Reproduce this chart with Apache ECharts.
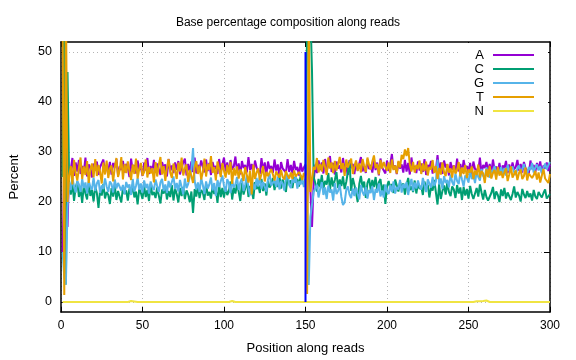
<!DOCTYPE html>
<html>
<head>
<meta charset="utf-8">
<script src="https://cdn.jsdelivr.net/npm/echarts@6/dist/echarts.min.js"></script>
<style>
  html, body { margin: 0; padding: 0; background: #fff; }
  #chart { width: 576px; height: 360px; }
</style>
</head>
<body>
<div id="chart"></div>
<script>
const titleText = 'Base percentage composition along reads';
const seriesNames = ['A', 'C', 'G', 'T', 'N'];
const seriesColors = ['#9400d3', '#009e73', '#56b4e9', '#e69f00', '#f0e442'];
const xTicks = [0, 50, 100, 150, 200, 250, 300];
const yTicks = [0, 10, 20, 30, 40, 50];
const readBoundary = [[150, 0], [150, 50]];

const baseA = [
  10, 28, 32, 15, 27, 26.5, 28.8, 25.2, 27.9, 26.1,
  28.4, 25.6, 27.2, 26.0, 28.9, 25.1, 27.5, 26.8, 24.9, 27.7,
  26.3, 28.1, 25.4, 27.0, 26.6, 28.5, 25.8, 27.3, 26.2, 28.0,
  25.5, 27.8, 26.9, 28.6, 25.3, 27.1, 26.4, 28.2, 25.9, 27.6,
  26.8, 25.0, 28.7, 26.1, 27.4, 25.7, 28.3, 26.5, 27.0, 25.2,
  27.9, 26.3, 28.8, 25.6, 27.2, 26.0, 28.4, 25.9, 27.7, 26.6,
  25.4, 28.0, 26.8, 27.5, 25.1, 28.6, 26.2, 27.3, 25.8, 27.9,
  26.4, 28.2, 25.5, 27.0, 26.9, 28.7, 25.3, 27.6, 26.1, 28.1,
  26.0, 28.9, 25.7, 27.4, 26.6, 28.3, 27.0, 25.9, 28.5, 26.2,
  27.8, 25.4, 28.0, 26.7, 27.2, 25.6, 28.6, 26.3, 27.5, 28.9,
  26.1, 27.9, 25.8, 28.4, 26.5, 27.1, 29.1, 26.0, 27.7, 25.5,
  28.2, 26.8, 27.4, 25.9, 29.0, 26.4, 27.6, 25.7, 28.3, 26.9,
  27.3, 25.6, 28.8, 26.2, 27.9, 25.4, 28.1, 26.6, 27.2, 25.8,
  28.5, 26.3, 27.5, 25.1, 28.0, 26.7, 27.1, 25.9, 28.6, 26.0,
  27.4, 25.7, 28.2, 26.4, 27.0, 25.3, 27.8, 26.1, 26.9, 27.5,
  20, 30, 30, 15, 24, 27.5, 25.8, 28.3, 26.4, 27.9,
  25.7, 28.6, 26.2, 27.4, 29.2, 26.0, 27.8, 25.5, 28.1, 26.7,
  27.3, 25.9, 28.8, 26.5, 27.0, 25.4, 28.4, 26.8, 27.6, 25.6,
  28.0, 26.3, 27.7, 29.0, 26.1, 27.2, 25.8, 28.5, 26.6, 27.4,
  25.9, 28.2, 26.4, 27.9, 25.3, 28.7, 26.9, 27.1, 25.7, 28.3,
  26.2, 27.6, 29.6, 26.5, 27.3, 25.6, 28.0, 26.7, 27.5, 25.9,
  28.4, 26.1, 27.8, 25.5, 28.9, 26.6, 27.2, 25.8, 28.1, 26.3,
  27.7, 26.0, 28.6, 25.4, 27.4, 26.8, 28.2, 25.7, 27.0, 26.4,
  29.4, 26.2, 27.9, 25.6, 28.3, 26.9, 27.5, 25.3, 28.0, 26.5,
  27.3, 25.9, 28.7, 26.1, 27.6, 25.8, 28.4, 26.7, 27.2, 26.0,
  27.8, 25.5, 28.1, 26.6, 27.0, 26.3, 28.9, 25.7, 27.4, 26.8,
  28.0, 26.2, 27.6, 25.9, 28.5, 26.4, 27.1, 26.0, 27.8, 25.6,
  27.3, 26.7, 28.2, 25.8, 27.5, 26.1, 27.9, 26.5, 27.0, 28.4,
  26.3, 27.6, 25.9, 28.0, 26.8, 27.2, 25.7, 28.3, 26.6, 27.4,
  26.0, 27.8, 26.5, 28.1, 25.9, 27.3, 26.7, 27.9, 26.2, 27.5
];

const baseC = [
  25, 66, 3.5, 46, 24, 21.5, 23.8, 20.2, 22.9, 24.1,
  21.0, 22.6, 19.8, 23.4, 21.7, 20.5, 23.9, 21.2, 22.4, 20.1,
  23.1, 21.8, 18.8, 22.5, 21.3, 23.6, 20.7, 22.0, 21.4, 19.6,
  22.8, 21.1, 23.3, 20.4, 22.2, 21.9, 19.9, 23.0, 21.6, 22.3,
  20.3, 22.7, 21.5, 23.5, 20.9, 22.1, 19.5, 22.6, 21.8, 20.6,
  23.2, 21.0, 22.4, 20.2, 23.7, 21.4, 22.0, 20.8, 22.9, 21.3,
  19.7, 22.5, 21.7, 23.1, 20.5, 22.2, 21.0, 23.4, 20.3, 22.7,
  21.6, 19.9, 22.8, 21.2, 23.0, 20.6, 22.3, 21.5, 20.0, 22.1,
  17.8, 22.6, 21.1, 23.3, 20.8, 22.4, 21.9, 20.4, 23.6, 21.3,
  22.0, 20.7, 23.2, 21.6, 22.5, 19.8, 23.5, 21.0, 22.8, 20.9,
  23.0, 21.4, 22.2, 24.1, 20.5, 22.9, 21.7, 23.6, 22.1, 20.2,
  23.8, 21.5, 22.7, 24.4, 21.0, 23.2, 22.3, 20.6, 24.0, 22.6,
  23.4, 21.8, 24.6, 22.2, 23.7, 21.3, 24.2, 22.9, 23.5, 24.8,
  22.4, 24.1, 23.0, 25.2, 22.7, 24.5, 23.3, 22.0, 24.9, 23.6,
  24.3, 22.8, 25.0, 23.9, 24.6, 23.1, 25.3, 24.0, 23.5, 24.7,
  56, 55, 58, 46, 25, 23.8, 22.1, 24.6, 23.0, 25.4,
  22.7, 24.2, 23.5, 25.8, 22.4, 24.9, 23.1, 24.4, 26.0, 22.8,
  24.5, 23.2, 25.1, 22.6, 24.0, 23.7, 28.0, 22.2, 24.8, 23.4,
  21.9, 20.0, 23.6, 25.2, 22.9, 24.1, 20.8, 23.8, 24.7, 22.5,
  24.4, 23.0, 25.0, 22.3, 23.9, 24.6, 22.0, 23.5, 19.6, 23.1,
  24.2, 22.7, 23.6, 21.8, 24.5, 23.3, 22.1, 24.0, 22.9, 23.7,
  21.5, 23.4, 24.8, 22.4, 23.1, 22.0, 24.3, 21.7, 23.8, 22.6,
  23.2, 21.4, 24.1, 22.8, 23.5, 20.9, 23.0, 22.3, 24.4, 21.9,
  19.5, 23.6, 20.6, 22.2, 23.3, 21.5, 23.9, 22.0, 21.2, 23.1,
  22.5, 20.8, 23.4, 21.7, 22.9, 20.4, 23.0, 21.3, 22.6, 20.7,
  23.2, 21.6, 20.6, 20.2, 22.8, 21.1, 23.5, 21.9, 20.5, 22.4,
  21.0, 20.3, 20.3, 21.8, 23.0, 20.6, 22.1, 21.4, 20.0, 22.5,
  21.2, 22.8, 20.7, 21.9, 22.3, 20.4, 21.6, 23.1, 20.9, 22.0,
  21.3, 20.1, 22.6, 21.5, 20.8, 22.2, 21.0, 21.7, 20.3, 22.4,
  21.1, 20.6, 22.0, 21.4, 20.9, 21.8, 22.5, 20.7, 21.0, 21.6
];

const baseG = [
  10, 5, 3.5, 19, 24, 22.4, 24.8, 23.1, 21.9, 24.2,
  23.5, 22.0, 24.6, 22.8, 23.9, 21.7, 24.3, 23.0, 22.5, 24.9,
  22.2, 23.7, 24.4, 21.8, 23.3, 22.6, 24.7, 23.1, 22.0, 24.1,
  23.6, 21.9, 24.5, 22.7, 23.8, 24.2, 22.3, 23.4, 21.6, 24.0,
  22.9, 23.5, 21.4, 24.6, 22.1, 23.2, 24.8, 22.5, 23.7, 21.9,
  24.3, 22.8, 23.6, 21.7, 24.1, 23.0, 22.4, 24.5, 23.2, 22.0,
  23.9, 24.6, 22.2, 23.5, 21.8, 24.2, 22.9, 23.3, 25.1, 22.6,
  23.8, 22.1, 24.4, 23.0, 21.5, 24.7, 22.8, 23.6, 24.0, 26.5,
  30.8, 24.2, 22.5, 23.9, 22.0, 24.8, 23.4, 21.6, 24.1, 22.7,
  23.5, 24.9, 22.3, 23.8, 21.2, 24.4, 23.0, 22.6, 25.3, 23.2,
  22.0, 24.6, 23.7, 21.8, 24.3, 22.9, 23.5, 25.0, 22.4, 23.9,
  24.7, 22.2, 23.4, 25.4, 22.8, 21.3, 24.1, 23.6, 22.5, 24.8,
  23.1, 25.2, 22.6, 24.0, 23.8, 22.1, 24.5, 25.6, 23.3, 22.9,
  24.4, 23.0, 25.1, 22.5, 24.2, 23.7, 22.3, 24.9, 25.5, 23.4,
  22.8, 24.6, 23.9, 25.2, 22.7, 24.1, 23.5, 24.8, 23.0, 24.4,
  22, 3.4, 17, 17, 22, 21.8, 23.5, 20.9, 22.6, 24.0,
  21.4, 22.9, 20.6, 23.3, 21.9, 22.5, 20.3, 23.8, 21.6, 22.2,
  23.5, 21.0, 19.4, 19.9, 22.4, 23.1, 21.5, 20.8, 22.7, 21.2,
  22.9, 21.6, 20.5, 23.4, 22.0, 21.3, 23.0, 20.7, 22.4, 21.8,
  23.2, 20.4, 22.6, 21.9, 23.7, 21.1, 22.3, 20.9, 23.5, 22.1,
  21.6, 23.4, 22.0, 24.1, 21.7, 23.0, 22.5, 24.4, 21.9, 23.6,
  22.8, 24.0, 21.4, 23.3, 24.6, 22.2, 23.9, 22.7, 24.3, 23.1,
  22.5, 24.8, 23.4, 22.0, 24.5, 23.7, 22.9, 25.0, 23.2, 24.1,
  28.5, 23.5, 24.7, 22.6, 25.2, 23.8, 24.4, 22.9, 25.5, 24.0,
  23.3, 25.7, 24.2, 23.6, 26.0, 24.5, 23.1, 25.3, 24.8, 23.9,
  26.3, 24.6, 25.4, 23.8, 26.1, 25.0, 24.3, 26.6, 25.2, 24.7,
  26.9, 25.5, 24.9, 26.4, 25.8, 27.2, 25.1, 26.5, 25.7, 27.0,
  25.6, 26.8, 25.3, 27.4, 26.2, 25.9, 27.1, 26.0, 25.4, 26.7,
  27.3, 25.8, 26.6, 27.6, 26.1, 25.5, 27.0, 26.4, 27.8, 25.9,
  26.9, 27.5, 26.3, 27.2, 25.7, 26.8, 27.7, 26.5, 27.4, 28.0
];

const baseT = [
  55, 1.4, 61, 20, 25, 27.2, 23.5, 28.4, 25.9, 24.3,
  26.8, 28.9, 24.6, 27.1, 25.4, 28.2, 23.8, 26.5, 27.7, 24.9,
  28.6, 25.2, 27.4, 26.0, 23.7, 27.9, 25.5, 28.3, 24.8, 26.7,
  27.3, 24.1, 26.9, 28.8, 25.0, 26.4, 29.0, 24.5, 27.6, 25.8,
  28.1, 26.2, 24.4, 27.5, 25.6, 28.7, 24.7, 26.6, 27.8, 25.3,
  26.0, 28.5, 24.9, 27.0, 25.7, 26.8, 23.9, 28.0, 25.1, 27.4,
  29.0, 25.5, 27.2, 24.2, 26.9, 28.6, 25.9, 24.8, 27.7, 26.3,
  24.6, 27.9, 26.1, 28.9, 25.3, 26.7, 27.5, 24.0, 26.4, 25.2,
  23.8, 26.9, 28.2, 25.6, 27.3, 24.5, 26.0, 28.7, 25.1, 27.6,
  26.4, 29.2, 25.8, 27.0, 24.3, 28.1, 26.6, 25.0, 27.8, 26.2,
  24.9, 27.4, 25.5, 28.0, 23.6, 26.8, 25.3, 27.1, 24.7, 26.5,
  25.8, 24.2, 27.0, 25.4, 23.9, 26.3, 21.5, 27.5, 24.6, 25.9,
  26.7, 24.4, 25.6, 27.2, 24.1, 26.0, 25.2, 24.8, 26.6, 25.5,
  24.3, 26.1, 25.7, 24.9, 26.4, 25.0, 24.5, 26.2, 25.3, 24.7,
  25.9, 24.6, 26.3, 25.1, 24.8, 26.0, 25.4, 24.4, 25.8, 25.2,
  1.6, 60, 22, 22, 27, 26.5, 28.8, 25.9, 27.6, 26.1,
  28.4, 27.0, 25.4, 28.9, 26.7, 27.9, 25.8, 28.2, 26.3, 27.5,
  29.0, 26.6, 27.8, 25.2, 28.5, 26.9, 27.3, 28.7, 25.6, 27.1,
  28.3, 26.2, 27.7, 25.9, 28.6, 27.2, 26.0, 28.9, 27.4, 26.5,
  28.1, 29.3, 26.8, 27.6, 25.5, 28.4, 26.7, 28.0, 27.0, 26.3,
  27.9, 25.8, 28.5, 26.4, 27.3, 25.7, 28.2, 26.9, 29.4, 28.6,
  30.5, 29.2, 30.8, 27.5, 26.1, 28.0, 25.9, 27.4, 26.6, 28.3,
  25.6, 27.7, 26.2, 28.1, 25.3, 27.0, 26.5, 28.4, 25.8, 27.2,
  24.6, 26.8, 25.5, 27.9, 26.0, 25.2, 27.6, 25.9, 26.7, 24.9,
  27.3, 25.7, 26.4, 28.0, 25.1, 26.9, 25.6, 27.4, 24.8, 26.5,
  25.9, 27.1, 24.6, 26.3, 25.4, 27.5, 24.9, 26.2, 25.7, 23.8,
  26.6, 25.0, 27.2, 24.7, 25.8, 26.4, 24.5, 27.0, 25.3, 26.1,
  24.8, 25.9, 26.7, 24.2, 25.5, 27.1, 24.9, 25.6, 26.3, 24.4,
  25.8, 26.5, 24.6, 25.2, 26.9, 24.3, 25.7, 26.0, 24.8, 25.4,
  26.2, 24.5, 25.9, 23.9, 25.3, 26.6, 24.7, 25.1, 23.8, 25.6
];

const baseN = [
  0, 0, 0, 0, 0, 0, 0, 0, 0, 0,
  0, 0, 0, 0, 0, 0, 0, 0, 0, 0,
  0, 0, 0, 0, 0, 0, 0, 0, 0, 0,
  0, 0, 0, 0, 0, 0, 0, 0, 0, 0,
  0, 0, 0.2, 0.6, 0.1, 0, 0, 0, 0, 0,
  0, 0, 0, 0, 0, 0, 0, 0, 0, 0,
  0, 0, 0, 0, 0, 0, 0, 0, 0, 0,
  0, 0, 0, 0, 0, 0, 0, 0, 0, 0,
  0, 0, 0, 0, 0, 0, 0, 0, 0, 0,
  0, 0, 0, 0, 0, 0, 0, 0, 0, 0,
  0, 0, 0, 0.15, 0.2, 0.15, 0, 0, 0, 0,
  0, 0, 0, 0, 0, 0, 0, 0, 0, 0,
  0, 0, 0, 0, 0, 0, 0, 0, 0, 0,
  0, 0, 0, 0, 0, 0, 0, 0, 0, 0,
  0, 0, 0, 0, 0, 0, 0, 0, 0, 0,
  0, 0, 0, 0, 0, 0, 0, 0, 0, 0,
  0, 0, 0, 0, 0, 0, 0, 0, 0, 0,
  0, 0, 0, 0, 0, 0, 0, 0, 0, 0,
  0, 0, 0, 0, 0, 0, 0, 0, 0, 0,
  0, 0, 0, 0, 0, 0, 0, 0, 0, 0,
  0, 0, 0, 0, 0, 0, 0, 0, 0, 0,
  0, 0, 0, 0, 0, 0, 0, 0.25, 0, 0,
  0, 0, 0, 0, 0, 0, 0, 0, 0, 0,
  0, 0, 0, 0, 0, 0, 0, 0, 0, 0,
  0, 0, 0, 0, 0, 0, 0, 0, 0, 0,
  0, 0, 0, 0, 0.15, 0.2, 0.15, 0, 0.2, 0.35,
  0.3, 0.25, 0, 0, 0, 0, 0, 0, 0, 0,
  0, 0, 0, 0, 0, 0, 0, 0, 0, 0,
  0, 0, 0, 0, 0, 0, 0, 0, 0, 0,
  0, 0, 0, 0, 0, 0, 0, 0, 0, 0
];

const allValues = [baseA, baseC, baseG, baseT, baseN];
const FONT = 'Liberation Sans';

const chart = echarts.init(document.getElementById('chart'), null, { renderer: 'canvas' });

const gridLine = { show: true, lineStyle: { color: '#b4b4b4', width: 1, type: [1, 3] } };

const series = seriesNames.map((name, k) => ({
  name: name,
  type: 'line',
  data: allValues[k].map((v, i) => [i + 1, v]),
  showSymbol: false,
  symbol: 'none',
  color: seriesColors[k],
  lineStyle: { width: 2, color: seriesColors[k] },
  clip: true,
  animation: false
}));
series.push({
  name: 'boundary',
  type: 'line',
  data: readBoundary,
  showSymbol: false,
  symbol: 'none',
  lineStyle: { width: 2, color: '#0000ff' },
  animation: false,
  silent: true
});

const option = {
  backgroundColor: '#ffffff',
  animation: false,
  textStyle: { fontFamily: FONT },
  title: {
    text: titleText,
    left: 'center',
    top: 12,
    textStyle: { fontFamily: FONT, fontSize: 12, fontWeight: 'normal', color: '#000' }
  },
  legend: {
    data: seriesNames,
    orient: 'vertical',
    right: 28,
    top: 43,
    align: 'right',
    itemWidth: 41,
    itemHeight: 2,
    itemGap: 0,
    icon: 'rect',
    padding: [5, 14, 5, 14],
    backgroundColor: '#ffffff',
    textStyle: { fontFamily: FONT, fontSize: 13, color: '#000', lineHeight: 14, padding: [0, 4, 0, 0] }
  },
  grid: { left: 60, right: 26, top: 42, bottom: 45, containLabel: false },
  xAxis: [
    {
      type: 'value', min: 0, max: 300, interval: 50,
      name: 'Position along reads', nameLocation: 'middle', nameGap: 30,
      nameTextStyle: { fontFamily: FONT, fontSize: 13, color: '#000' },
      axisLine: { show: true, onZero: false, lineStyle: { color: '#000', width: 1.5 } },
      axisTick: { show: true, inside: true, length: 5, lineStyle: { color: '#000' } },
      axisLabel: { fontFamily: FONT, fontSize: 12, color: '#000', margin: 8 },
      splitLine: gridLine
    },
    {
      type: 'value', min: 0, max: 300, interval: 50, position: 'top',
      axisLine: { show: true, onZero: false, lineStyle: { color: '#000', width: 1.5 } },
      axisTick: { show: true, inside: true, length: 5, lineStyle: { color: '#000' } },
      axisLabel: { show: false },
      splitLine: { show: false }
    }
  ],
  yAxis: [
    {
      type: 'value', min: -2, max: 52,
      name: 'Percent', nameLocation: 'middle', nameGap: 40,
      nameTextStyle: { fontFamily: FONT, fontSize: 13, color: '#000' },
      axisLine: { show: true, onZero: false, lineStyle: { color: '#000', width: 1.5 } },
      axisTick: { show: true, inside: true, length: 6, customValues: yTicks, lineStyle: { color: '#000' } },
      axisLabel: { fontFamily: FONT, fontSize: 12.5, color: '#000', margin: 9, customValues: yTicks },
      splitLine: gridLine
    },
    {
      type: 'value', min: -2, max: 52, position: 'right',
      axisLine: { show: true, onZero: false, lineStyle: { color: '#000', width: 1.5 } },
      axisTick: { show: true, inside: true, length: 6, customValues: yTicks, lineStyle: { color: '#000' } },
      axisLabel: { show: false, customValues: yTicks },
      splitLine: { show: false }
    }
  ],
  series: series
};

chart.setOption(option);
</script>
</body>
</html>
